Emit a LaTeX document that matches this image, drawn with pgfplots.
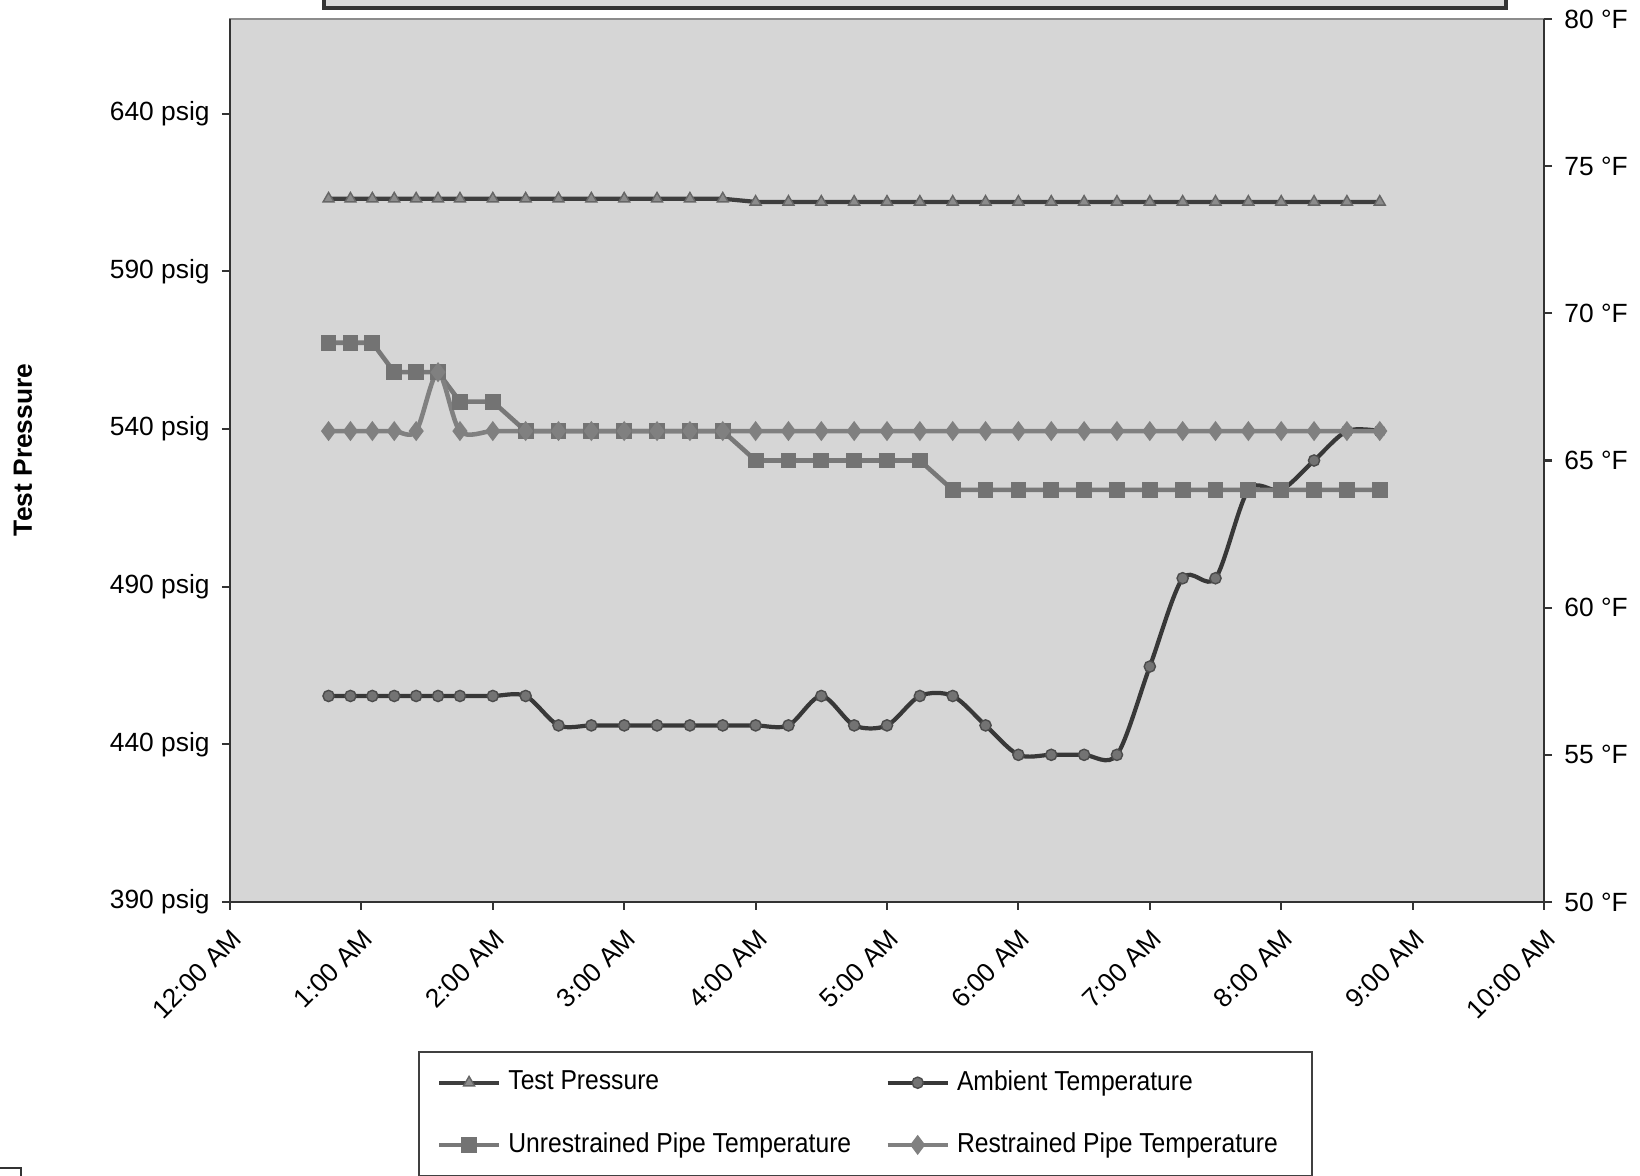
\documentclass[border=0pt]{standalone}
\usepackage{pgfplots}
\pgfplotsset{compat=1.18}
\usepackage{pgfplotstable}
\usepackage{fontspec}
\setmainfont{Liberation Sans}
\newfontfamily\narrowfont[FakeStretch=0.9]{Liberation Sans}

% time in hours after midnight; pressure in psig, temperatures in F
\pgfplotstableread{
t      tp   amb  unr  res
0.75   613  57   69   66
0.9167 613  57   69   66
1.0833 613  57   69   66
1.25   613  57   68   66
1.4167 613  57   68   66
1.5833 613  57   68   68
1.75   613  57   67   66
2.00   613  57   67   66
2.25   613  57   66   66
2.50   613  56   66   66
2.75   613  56   66   66
3.00   613  56   66   66
3.25   613  56   66   66
3.50   613  56   66   66
3.75   613  56   66   66
4.00   612  56   65   66
4.25   612  56   65   66
4.50   612  57   65   66
4.75   612  56   65   66
5.00   612  56   65   66
5.25   612  57   65   66
5.50   612  57   64   66
5.75   612  56   64   66
6.00   612  55   64   66
6.25   612  55   64   66
6.50   612  55   64   66
6.75   612  55   64   66
7.00   612  58   64   66
7.25   612  61   64   66
7.50   612  61   64   66
7.75   612  64   64   66
8.00   612  64   64   66
8.25   612  65   64   66
8.50   612  66   64   66
8.75   612  66   64   66
}\logdata

\definecolor{tpline}{HTML}{3E3E3E}
\definecolor{ambline}{HTML}{383838}
\definecolor{unrline}{HTML}{787878}
\definecolor{resline}{HTML}{808080}

\pgfplotsset{
  base/.style={
    width=13.14cm, height=8.83cm, scale only axis,
    xmin=0, xmax=10,
    tick align=outside, major tick length=0.08cm,
    tick style={black!80, line width=0.6pt},
    axis line style={black!80, line width=0.7pt},
    tick label style={font=\fontsize{7.5}{9}\selectfont},
  },
}

\begin{document}
\begin{tikzpicture}
\begin{axis}[base,
  ymin=390, ymax=670,
  ytick={390,440,...,640},
  yticklabels={390 psig,440 psig,490 psig,540 psig,590 psig,640 psig},
  axis y line*=left, axis x line*=bottom,
  xtick={0,...,10},
  xticklabels={12:00 AM,1:00 AM,2:00 AM,3:00 AM,4:00 AM,5:00 AM,6:00 AM,7:00 AM,8:00 AM,9:00 AM,10:00 AM},
  xticklabel style={rotate=45, anchor=north east},
  ylabel={Test Pressure},
  ylabel style={at={(axis description cs:-0.1575,0.512)}, anchor=center,
    font=\bfseries\fontsize{7.5}{9}\selectfont},
  axis background/.style={fill=black!16, draw=black!45},
]
\addplot[tpline, line width=1.2pt, mark=triangle*, mark size=1.8pt,
  mark options={fill=black!45, draw=black!60, line width=0.4pt}]
  table[x=t, y=tp] {\logdata};
\end{axis}

\begin{axis}[base,
  ymin=50, ymax=80,
  ytick={50,55,...,80},
  yticklabels={50 °F,55 °F,60 °F,65 °F,70 °F,75 °F,80 °F},
  axis y line*=right, axis x line=none,
  legend columns=2,
  legend cell align=left,
  legend style={at={(axis description cs:0.143,-0.169)}, anchor=north west,
    draw=black!75, fill=white, line width=0.5pt,
    inner xsep=0.18cm, inner ysep=0.11cm, row sep=0.23cm,
    font=\narrowfont\fontsize{7.8}{9}\selectfont},
]
\addlegendimage{tpline, line width=1.2pt, mark=triangle*, mark size=1.8pt,
  mark options={fill=black!45, draw=black!60, line width=0.4pt}}
\addlegendentry{\makebox[3.7cm][l]{Test Pressure}}
\addplot[ambline, line width=1.2pt, smooth, tension=0.5, mark=*, mark size=1.6pt,
  mark options={fill=black!55, draw=black!70, line width=0.4pt}]
  table[x=t, y=amb] {\logdata};
\addlegendentry{\makebox[3.3cm][l]{Ambient Temperature}}
\addplot[unrline, line width=1.3pt, mark=square*, mark size=1.6pt,
  mark options={fill=black!55, draw=black!55}]
  table[x=t, y=unr] {\logdata};
\addlegendentry{\makebox[3.7cm][l]{Unrestrained Pipe Temperature\rule[-0.9cm]{0pt}{0pt}}}
\addplot[resline, line width=1.3pt, smooth, tension=0.5, mark=diamond*, mark size=1.8pt,
  mark options={fill=black!50, draw=black!50}]
  table[x=t, y=res] {\logdata};
\addlegendentry{\makebox[3.3cm][l]{Restrained Pipe Temperature\rule[-0.9cm]{0pt}{0pt}}}
\end{axis}

% title frame cut off at the top edge, small box at the lower left
\draw[line width=1pt, black!80, fill=black!15] (0.94,8.94) rectangle (12.76,9.6);
\draw[line width=0.5pt, black!80] (-2.40,-2.80) rectangle (-2.09,-2.66);

\pgfresetboundingbox
\useasboundingbox (-2.30,-2.73) rectangle (14.10,9.02);
\end{tikzpicture}
\end{document}
